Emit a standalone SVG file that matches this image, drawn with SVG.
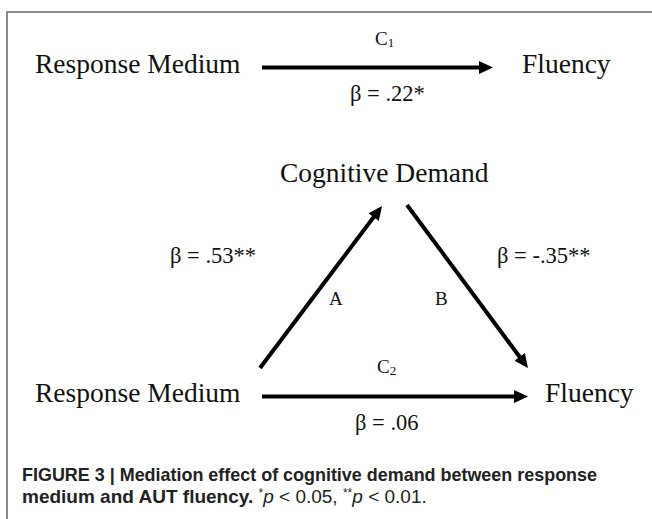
<svg xmlns="http://www.w3.org/2000/svg" width="652" height="519" viewBox="0 0 652 519">
<defs>
<style>
.n{font-family:"Liberation Serif","Times New Roman",serif;font-size:27.5px;fill:#111}
.l{font-family:"Liberation Serif","Times New Roman",serif;font-size:22.5px;fill:#111}
.s{font-family:"Liberation Serif","Times New Roman",serif;font-size:19px;fill:#111}
.e{stroke:#000;stroke-width:4;fill:none}
.cap{font-family:"Liberation Sans",Arial,sans-serif;font-size:19px;fill:#222}
</style>
<marker id="ah" markerUnits="userSpaceOnUse" markerWidth="15" markerHeight="14" refX="4" refY="6.5" orient="auto">
<path d="M0,0 L14,6.5 L0,13 z" fill="#000"/>
</marker>
</defs>
<rect width="652" height="519" fill="#fff"/>
<path d="M652,12 H7 V519" stroke="#8a8a8a" stroke-width="2" fill="none"/>
<g id="top-response-medium"><text class="n" x="35" y="73">Response Medium</text></g>
<g id="top-fluency"><text class="n" x="522" y="73">Fluency</text></g>
<g id="cognitive-demand"><text class="n" x="280" y="182">Cognitive Demand</text></g>
<g id="bottom-response-medium"><text class="n" x="35" y="402">Response Medium</text></g>
<g id="bottom-fluency"><text class="n" x="545" y="402">Fluency</text></g>
<g id="connectors">
<line class="e" x1="262" y1="67.5" x2="483" y2="67.5" marker-end="url(#ah)"/>
<line class="e" x1="260" y1="368" x2="376" y2="214" marker-end="url(#ah)"/>
<line class="e" x1="407" y1="205" x2="522" y2="360" marker-end="url(#ah)"/>
<line class="e" x1="262" y1="396.5" x2="518" y2="396.5" marker-end="url(#ah)"/>
</g>
<g id="labels">
<text class="s" x="375" y="45">C<tspan font-size="13" dy="2">1</tspan></text>
<text class="l" x="350" y="101">β = .22*</text>
<text class="l" x="170" y="263">β = .53**</text>
<text class="l" x="497" y="263">β = -.35**</text>
<text class="s" x="329" y="305">A</text>
<text class="s" x="435" y="305">B</text>
<text class="s" x="377" y="373">C<tspan font-size="13" dy="2">2</tspan></text>
<text class="l" x="355" y="430">β = .06</text>
</g>
<g id="caption">
<text class="cap" x="22" y="481" font-weight="bold" textLength="575" lengthAdjust="spacingAndGlyphs">FIGURE 3 | Mediation effect of cognitive demand between response</text>
<text class="cap" x="22" y="503"><tspan font-weight="bold">medium and AUT fluency.</tspan> <tspan font-size="12" dy="-6">*</tspan><tspan font-style="italic" dy="6">p</tspan> &lt; 0.05, <tspan font-size="12" dy="-6">**</tspan><tspan font-style="italic" dy="6">p</tspan> &lt; 0.01.</text>
</g>
</svg>
